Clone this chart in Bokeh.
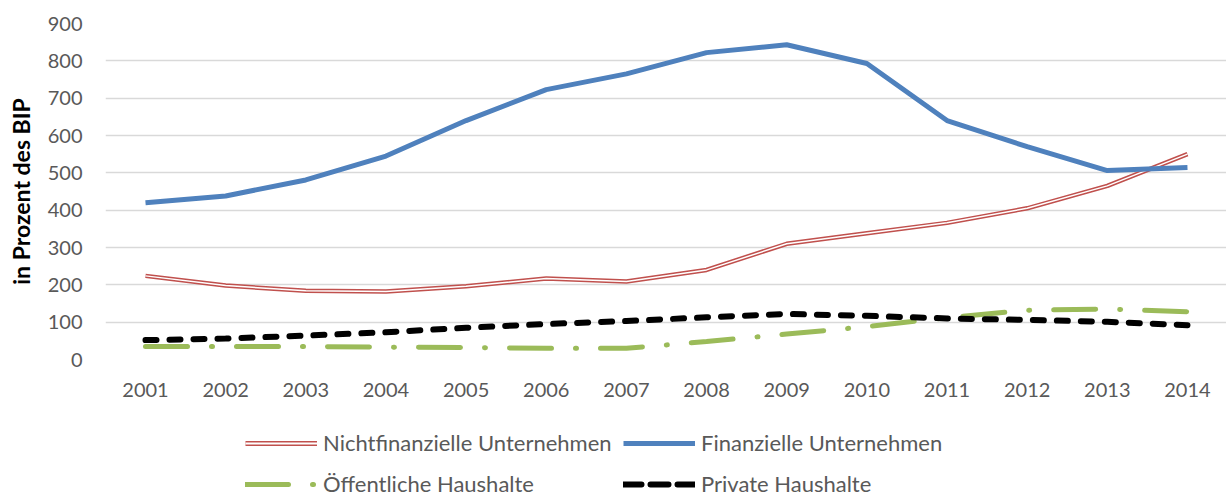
from bokeh.plotting import figure
from bokeh.layouts import column
from bokeh.models import Legend, LegendItem, FixedTicker, Range1d
from bokeh.embed import file_html
from bokeh.resources import INLINE

years = [2001, 2002, 2003, 2004, 2005, 2006, 2007, 2008, 2009, 2010, 2011, 2012, 2013, 2014]
nichtfinanzielle = [224, 198, 184, 182, 196, 217, 209, 240, 310, 338, 366, 405, 465, 550]
finanzielle = [420, 438, 481, 545, 640, 723, 765, 822, 843, 793, 640, 570, 506, 514]
oeffentliche = [35, 35, 35, 33, 32, 30, 30, 48, 68, 88, 112, 132, 135, 128]
private = [52, 56, 64, 73, 85, 95, 103, 113, 122, 117, 110, 106, 101, 92]
y_ticks = [0, 100, 200, 300, 400, 500, 600, 700, 800, 900]
labels = ["Nichtfinanzielle Unternehmen", "Finanzielle Unternehmen",
          "Öffentliche Haushalte", "Private Haushalte"]

FONT = "Lato"
GREY = "#595959"
RED, BLUE, GREEN = "#C0504D", "#4F81BD", "#9BBB59"

W = 1226
H_MAIN = 405
H_LEG = 92
LEFT = 105

p = figure(width=W, height=H_MAIN, output_backend="svg", toolbar_location=None,
           x_range=Range1d(2000.501, 2014.487), y_range=Range1d(0, 900),
           min_border_left=LEFT, min_border_top=23, min_border_right=0,
           min_border_bottom=H_MAIN - 23 - 336)
p.outline_line_color = None
p.xgrid.grid_line_color = None
p.ygrid.grid_line_color = "#D9D9D9"
p.ygrid.grid_line_width = 1.3
p.ygrid.ticker = FixedTicker(ticks=y_ticks)

p.xaxis.ticker = FixedTicker(ticks=years)
p.xaxis.major_label_overrides = {y: str(y) for y in years}
p.yaxis.ticker = FixedTicker(ticks=y_ticks)
for ax in (p.xaxis, p.yaxis):
    ax.axis_line_color = None
    ax.major_tick_line_color = None
    ax.minor_tick_line_color = None
    ax.major_tick_out = 0
    ax.major_tick_in = 0
    ax.major_label_text_font = FONT
    ax.major_label_text_font_size = "20px"
    ax.major_label_text_color = GREY
p.xaxis.major_label_standoff = 23
p.yaxis.major_label_standoff = 23
p.yaxis.axis_label = "in Prozent des BIP"
p.yaxis.axis_label_text_font = FONT
p.yaxis.axis_label_text_font_size = "23px"
p.yaxis.axis_label_text_font_style = "bold"
p.yaxis.axis_label_text_color = "black"
p.yaxis.axis_label_standoff = 10

STYLES = [
    [dict(line_color=RED, line_width=4.5, line_join="round"),
     dict(line_color="white", line_width=1.5, line_join="round")],
    [dict(line_color=BLUE, line_width=5, line_join="round")],
    [dict(line_color=GREEN, line_width=5, line_dash="42 24 1 24", line_cap="round")],
    [dict(line_color="black", line_width=6, line_dash="11 13", line_cap="round")],
]
# legend samples (Excel rescales dashes in the legend)
LEG_STYLES = [
    [dict(line_color=RED, line_width=5), dict(line_color="white", line_width=1.8)],
    [dict(line_color=BLUE, line_width=5)],
    [dict(line_color=GREEN, line_width=5, line_dash="43 24 1 24", line_cap="round")],
    [dict(line_color="black", line_width=6, line_dash="18 9", line_cap="round")],
]
series = [nichtfinanzielle, finanzielle, oeffentliche, private]
for vals, styles in zip(series, STYLES):
    for st in styles:
        p.line(years, vals, **st)

# legend figure below the chart (its frame is aligned with the chart's frame)
lf = figure(width=W, height=H_LEG, output_backend="svg", toolbar_location=None,
            x_range=Range1d(0, 1), y_range=Range1d(0, 1),
            min_border=0, x_axis_location=None, y_axis_location=None)
lf.outline_line_color = None
lf.xgrid.grid_line_color = None
lf.ygrid.grid_line_color = None

# same series drawn out of view in the legend figure, only to feed the legend
leg_renderers = []
for vals, styles in zip(series, LEG_STYLES):
    leg_renderers.append([lf.line(years, vals, **st) for st in styles])


def make_legend(idx, x):
    items = [LegendItem(label=labels[i], renderers=leg_renderers[i]) for i in idx]
    return Legend(items=items, location=(x, 0), orientation="vertical",
                  glyph_width=72, glyph_height=20, label_height=20, label_standoff=6,
                  spacing=14, padding=0, margin=0, border_line_color=None,
                  background_fill_alpha=0, label_text_font=FONT,
                  label_text_font_size="22px", label_text_color=GREY)


lf.add_layout(make_legend([0, 2], 245 - LEFT))
lf.add_layout(make_legend([1, 3], 623 - LEFT))

layout = column(p, lf, spacing=0)
open("out.html", "w").write(file_html(layout, INLINE))
